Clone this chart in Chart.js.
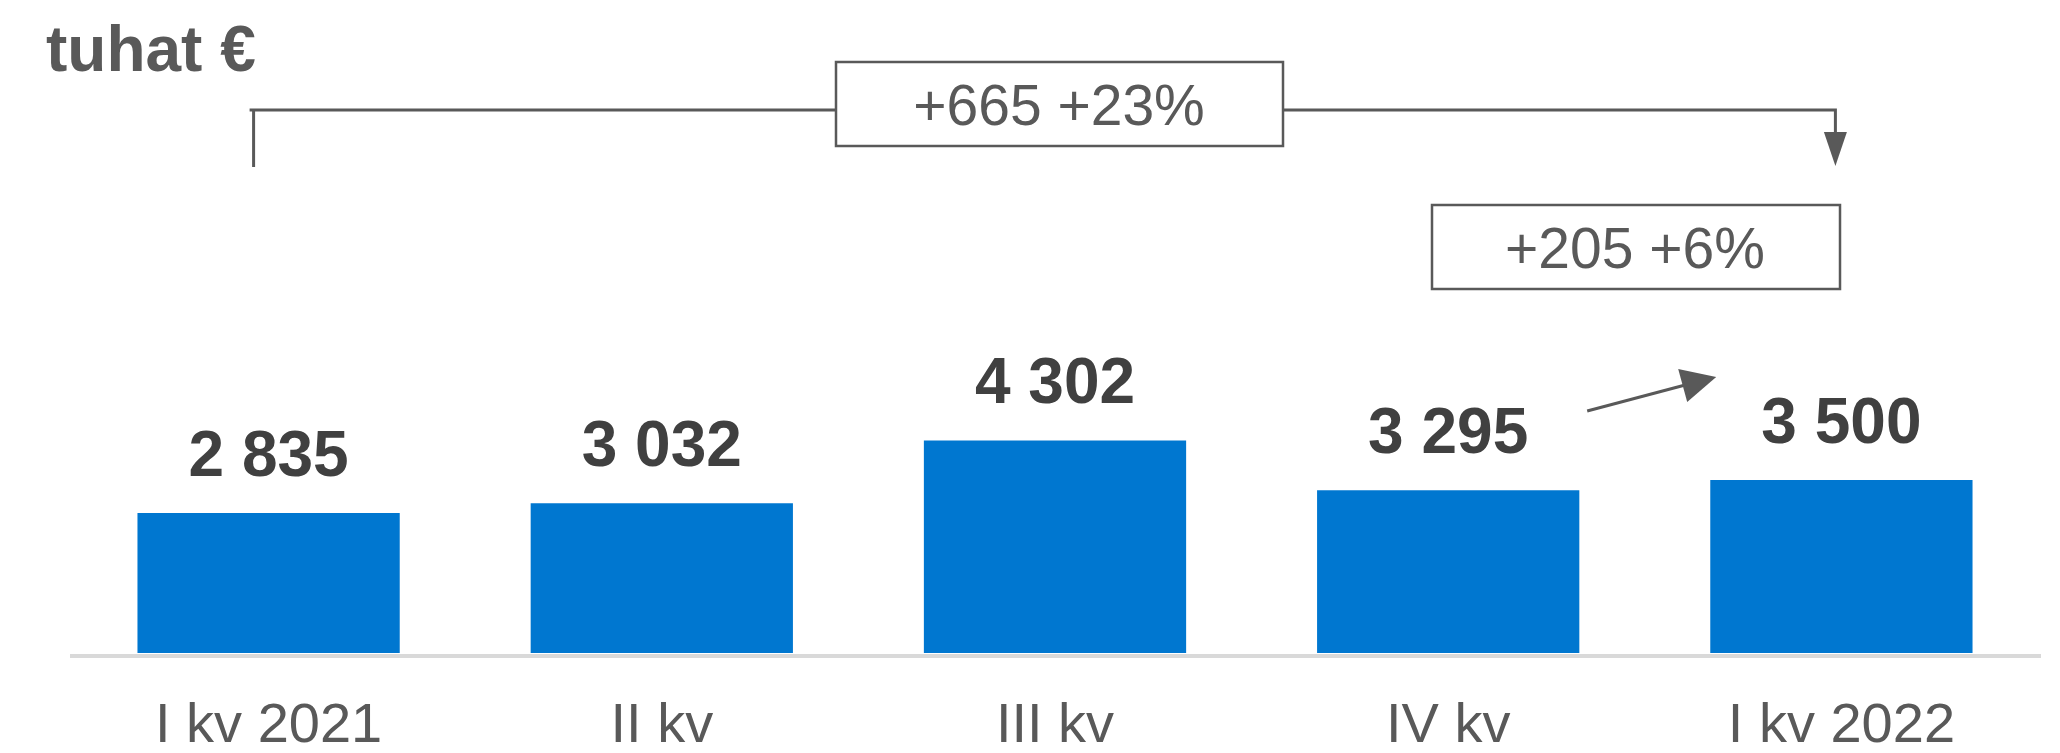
<!DOCTYPE html>
<html>
<head>
<meta charset="utf-8">
<script src="https://cdn.jsdelivr.net/npm/chart.js@4"></script>
<style>
  html, body { margin: 0; padding: 0; background: #fff; }
  #wrap { width: 2060px; height: 753px; position: relative; }
</style>
</head>
<body>
<div id="wrap"><canvas id="chart"></canvas></div>
<script>
// data
const quarters = ['I kv 2021', 'II kv', 'III kv', 'IV kv', 'I kv 2022'];
const revenue = [2835, 3032, 4302, 3295, 3500];
const unitLabel = 'tuhat €';
const yearChange = ['+665', '+23%'];
const quarterChange = ['+205', '+6%'];

const FONT = '"Liberation Sans", Arial, sans-serif';
const GREY = '#595959';

const fmt = (v) => String(v).replace(/\B(?=(\d{3})+(?!\d))/g, ' ');

function box(ctx, x1, y1, x2, y2, text, cx, base) {
  ctx.fillStyle = '#fff';
  ctx.fillRect(x1, y1, x2 - x1, y2 - y1);
  ctx.lineWidth = 2.5;
  ctx.strokeStyle = GREY;
  ctx.strokeRect(x1, y1, x2 - x1, y2 - y1);
  ctx.fillStyle = GREY;
  ctx.font = '57px ' + FONT;
  ctx.textAlign = 'center';
  ctx.textBaseline = 'alphabetic';
  ctx.fillText(text, cx, base);
}

const overlay = {
  id: 'overlay',
  afterDatasetsDraw(chart) {
    const ctx = chart.ctx;
    const bars = chart.getDatasetMeta(0).data;
    const area = chart.chartArea;
    ctx.save();

    // baseline
    ctx.fillStyle = '#d9d9d9';
    ctx.fillRect(area.left - 2, area.bottom + 1, area.right - area.left + 5, 4);

    // value labels
    ctx.fillStyle = '#404040';
    ctx.font = 'bold 64px ' + FONT;
    ctx.textAlign = 'center';
    ctx.textBaseline = 'alphabetic';
    bars.forEach((b, i) => ctx.fillText(fmt(revenue[i]), b.x, b.y - 37));

    // unit title
    ctx.fillStyle = GREY;
    ctx.font = 'bold 64px ' + FONT;
    ctx.textAlign = 'left';
    ctx.fillText(unitLabel, 46, 71);

    // year-over-year bracket
    const lx = bars[0].x - 15;
    const rx = bars[4].x - 6;
    ctx.strokeStyle = GREY;
    ctx.lineWidth = 3;
    ctx.beginPath();
    ctx.moveTo(lx, 167);
    ctx.lineTo(lx, 110);
    ctx.moveTo(lx - 4, 110);
    ctx.lineTo(rx, 110);
    ctx.lineTo(rx, 134);
    ctx.stroke();
    ctx.fillStyle = GREY;
    ctx.beginPath();
    ctx.moveTo(rx - 11.5, 132);
    ctx.lineTo(rx + 11.5, 132);
    ctx.lineTo(rx, 166);
    ctx.closePath();
    ctx.fill();
    box(ctx, 836, 62, 1283, 146, yearChange.join(' '), 1059, 125);

    // quarter change
    box(ctx, 1432, 205, 1840, 289, quarterChange.join(' '), 1635, 268);
    ctx.strokeStyle = GREY;
    ctx.lineWidth = 3;
    ctx.beginPath();
    ctx.moveTo(bars[3].x + 139, 411);
    ctx.lineTo(bars[3].x + 237, 385);
    ctx.stroke();
    ctx.fillStyle = GREY;
    ctx.beginPath();
    ctx.moveTo(bars[3].x + 230, 369);
    ctx.lineTo(bars[3].x + 268, 377);
    ctx.lineTo(bars[3].x + 239, 402);
    ctx.closePath();
    ctx.fill();

    ctx.restore();
  }
};

new Chart(document.getElementById('chart'), {
  type: 'bar',
  data: {
    labels: quarters,
    datasets: [{
      data: revenue,
      backgroundColor: '#0077d0',
      borderWidth: 0,
      barPercentage: 1,
      categoryPercentage: 0.667
    }]
  },
  options: {
    responsive: true,
    maintainAspectRatio: false,
    animation: false,
    devicePixelRatio: 1,
    layout: { padding: { top: 159, left: 72, right: 22, bottom: 0 } },
    plugins: {
      legend: { display: false },
      tooltip: { enabled: false }
    },
    scales: {
      x: {
        grid: { display: false, drawTicks: false },
        border: { display: false },
        ticks: {
          color: GREY,
          padding: 40,
          font: { family: FONT, size: 56, lineHeight: 1.2 }
        },
        afterFit: (scale) => { scale.height = 100; }
      },
      y: {
        display: false,
        min: 0,
        max: 10000
      }
    }
  },
  plugins: [overlay]
});
</script>
</body>
</html>
